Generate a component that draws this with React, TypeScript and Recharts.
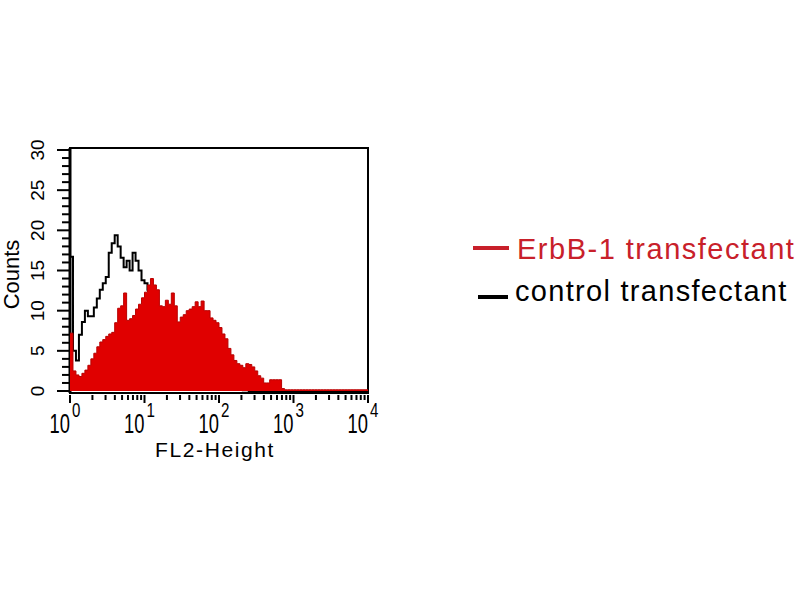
import { Area, ComposedChart, Legend, Line, ReferenceArea, XAxis, YAxis } from "recharts";

const FONT = "'Liberation Sans', Arial, sans-serif";
const RED = "#e00000";

// 25 channels per decade, 10^0 .. 10^4
const BIN_STEP = 0.04;

const erbb = [
  7.2, 2.5, 2.0, 1.8, 2.2, 2.6, 3.2, 4.0, 4.7, 5.5,
  6.1, 6.4, 6.8, 7.1, 7.3, 8.5, 10.3, 10.6, 12.2, 8.8,
  9.0, 9.4, 10.2, 10.8, 11.6, 12.3, 13.2, 14.0, 13.2, 12.6,
  10.6, 10.5, 11.3, 10.8, 12.2, 10.6, 8.6, 9.2, 9.5, 10.0,
  10.2, 10.5, 11.1, 10.5, 11.2, 10.0, 10.0, 9.1, 8.8, 8.5,
  7.9, 7.1, 6.5, 5.3, 4.5, 3.8, 3.4, 3.2, 2.9, 3.4,
  3.3, 3.0, 2.5, 1.9, 1.6, 1.0, 1.0, 1.4, 1.4, 1.4,
  1.4, 0.3, 0.15, 0.15, 0.15, 0.15, 0.15, 0.15, 0.15, 0.15,
  0.15, 0.15, 0.15, 0.15, 0.15, 0.15, 0.15, 0.15, 0.15, 0.15,
  0.15, 0.15, 0.15, 0.15, 0.15, 0.15, 0.15, 0.15, 0.15, 0.15,
  0.15,
];

const control = [
  16.7, 5.0, 3.8, 7.0, 8.6, 10.0, 9.3, 9.3, 10.4, 11.5,
  12.6, 13.4, 14.2, 17.2, 18.4, 19.4, 18.0, 16.6, 15.4, 16.2,
  15.0, 17.2, 16.2, 15.0, 13.8, 13.4, 12.6, 11.5, 10.5, 9.5,
  8.5, 8.0, 7.5, 7.0, 6.5, 6.0, 5.5, 5.0, 4.5, 4.0,
  3.8, 3.5, 3.2, 3.0, 2.7, 2.4, 2.1, 1.8, 1.5, 1.3,
  1.1, 0.9, 0.7, 0.6, 0.5, 0.4, 0.3, 0.2, 0.1, 0.1,
  0, 0, 0, 0, 0, 0, 0, 0, 0, 0,
  0, 0, 0, 0, 0, 0, 0, 0, 0, 0,
  0, 0, 0, 0, 0, 0, 0, 0, 0, 0,
  0, 0, 0, 0, 0, 0, 0, 0, 0, 0,
  0,
];

const xTicks = [
  1, 2, 3, 4, 5, 6, 7, 8, 9,
  10, 20, 30, 40, 50, 60, 70, 80, 90,
  100, 200, 300, 400, 500, 600, 700, 800, 900,
  1000, 2000, 3000, 4000, 5000, 6000, 7000, 8000, 9000,
  10000,
];

const yTicks = [
  0, 1, 2, 3, 4, 5, 6, 7, 8, 9, 10, 11, 12, 13, 14, 15,
  16, 17, 18, 19, 20, 21, 22, 23, 24, 25, 26, 27, 28, 29, 30,
];

const legendItems = [
  { label: "ErbB-1 transfectant", color: "#c8202a" },
  { label: "control transfectant", color: "#000" },
];

const data = erbb.map((v, i) => ({ fl2: Math.pow(10, i * BIN_STEP), erbb: v, control: control[i] }));

function XTick({ x, y, payload }: any) {
  const v = payload.value;
  const exp = Math.round(Math.log10(v));
  const major = Math.abs(Math.pow(10, exp) - v) < 1e-6;
  return (
    <g>
      <line x1={x} x2={x} y1={y + 2} y2={y + (major ? 10 : 7)} stroke="#000" strokeWidth={2} />
      {major && (
        <g fontFamily={FONT} fill="#000">
          <text transform={`translate(${x},${y + 40}) scale(0.68,1)`} textAnchor="end" fontSize={27}>10</text>
          <text transform={`translate(${x + 2},${y + 24}) scale(0.72,1)`} textAnchor="start" fontSize={21}>{exp}</text>
        </g>
      )}
    </g>
  );
}

function YTick({ x, y, payload }: any) {
  const v = payload.value;
  const major = v % 5 === 0;
  return (
    <g>
      <line x1={x - (major ? 13 : 8)} x2={x} y1={y} y2={y} stroke="#000" strokeWidth={2} />
      {major && (
        <text transform={`translate(${x - 26},${y}) rotate(-90)`} textAnchor="middle" fontSize={19} fontFamily={FONT} fill="#000">
          {v}
        </text>
      )}
    </g>
  );
}

function LegendBox() {
  return (
    <svg width={330} height={80}>
      <line x1={1} x2={37} y1={16} y2={16} stroke={legendItems[0].color} strokeWidth={4} />
      <line x1={6} x2={36} y1={65} y2={65} stroke={legendItems[1].color} strokeWidth={4} />
      <text x={45} y={27} fontSize={29} letterSpacing={1.5} fontFamily={FONT} fill={legendItems[0].color}>{legendItems[0].label}</text>
      <text x={43} y={69} fontSize={29} letterSpacing={1.3} fontFamily={FONT} fill={legendItems[1].color}>{legendItems[1].label}</text>
    </svg>
  );
}

export default function App() {
  return (
    <div style={{ position: "absolute", left: 0, top: 0, width: 800, height: 600, background: "#fff" }}>
      <ComposedChart width={800} height={600} data={data} margin={{ top: 148, right: 432, bottom: 147, left: 10 }}>
        <XAxis
          dataKey="fl2"
          type="number"
          scale="log"
          domain={[1, 10000]}
          ticks={xTicks}
          interval={0}
          tick={<XTick />}
          tickLine={false}
          tickSize={0}
          tickMargin={0}
          height={60}
          allowDataOverflow
          axisLine={{ stroke: "#000", strokeWidth: 2 }}
          label={({ viewBox }: any) => (
            <text x={viewBox.x + viewBox.width / 2 - 4} y={viewBox.y + 64} textAnchor="middle" fontSize={21} letterSpacing={1.6} fontFamily={FONT} fill="#000">
              FL2-Height
            </text>
          )}
        />
        <YAxis
          type="number"
          domain={[-0.25, 30.25]}
          ticks={yTicks}
          interval={0}
          tick={<YTick />}
          tickLine={false}
          tickSize={0}
          tickMargin={0}
          width={60}
          allowDataOverflow
          axisLine={{ stroke: "#000", strokeWidth: 3 }}
          label={({ viewBox }: any) => (
            <text transform={`translate(19,${viewBox.y + viewBox.height / 2 + 4}) rotate(-90)`} textAnchor="middle" fontSize={22} fontFamily={FONT} fill="#000">
              Counts
            </text>
          )}
        />
        <ReferenceArea x1={1} x2={10000} y1={-0.25} y2={30.25} fill="none" stroke="#000" strokeWidth={2} ifOverflow="visible" />
        <Line dataKey="control" type="stepAfter" stroke="#000" strokeWidth={2} dot={false} isAnimationActive={false} />
        <Area
          dataKey="erbb"
          type="stepAfter"
          fill={RED}
          fillOpacity={1}
          stroke="#b80000"
          strokeWidth={1}
          isAnimationActive={false}
          zIndex={500}
        />
        <Legend
          layout="vertical"
          align="center"
          verticalAlign="middle"
          wrapperStyle={{ left: 472, top: 232, width: 330 }}
          content={() => <LegendBox />}
        />
      </ComposedChart>
    </div>
  );
}
